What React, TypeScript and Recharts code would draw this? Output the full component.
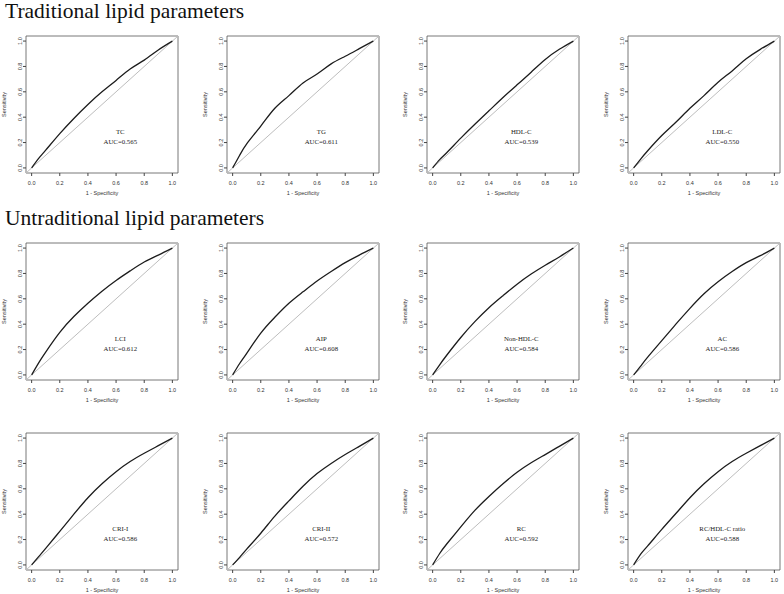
import React from "react";
import { LineChart, Line, XAxis, YAxis, ReferenceLine, ReferenceArea, ReferenceDot } from "recharts";

// false positive rate (1 - specificity) grid the curves were read at
const fpr = [0, 0.05, 0.1, 0.2, 0.3, 0.4, 0.5, 0.6, 0.7, 0.8, 0.9, 1];

// sensitivity
const tcSens = [0, 0.075, 0.14, 0.27, 0.39, 0.5, 0.6, 0.69, 0.78, 0.85, 0.93, 1];
const tgSens = [0, 0.1, 0.19, 0.33, 0.47, 0.57, 0.67, 0.74, 0.82, 0.88, 0.94, 1];
const hdlSens = [0, 0.065, 0.12, 0.235, 0.345, 0.45, 0.555, 0.655, 0.755, 0.855, 0.935, 1];
const ldlSens = [0, 0.07, 0.135, 0.255, 0.36, 0.47, 0.57, 0.675, 0.765, 0.86, 0.935, 1];
const lciSens = [0, 0.095, 0.18, 0.335, 0.46, 0.565, 0.66, 0.745, 0.82, 0.89, 0.945, 1];
const aipSens = [0, 0.09, 0.17, 0.33, 0.455, 0.565, 0.655, 0.74, 0.815, 0.885, 0.945, 1];
const nonHdlSens = [0, 0.08, 0.155, 0.295, 0.42, 0.53, 0.625, 0.715, 0.795, 0.865, 0.93, 1];
const acSens = [0, 0.07, 0.14, 0.27, 0.4, 0.525, 0.64, 0.735, 0.815, 0.885, 0.94, 1];
const cri1Sens = [0, 0.065, 0.13, 0.265, 0.4, 0.53, 0.64, 0.735, 0.815, 0.88, 0.94, 1];
const cri2Sens = [0, 0.06, 0.125, 0.25, 0.385, 0.505, 0.62, 0.72, 0.8, 0.87, 0.935, 1];
const rcSens = [0, 0.09, 0.165, 0.3, 0.43, 0.54, 0.64, 0.73, 0.805, 0.87, 0.935, 1];
const rcHdlSens = [0, 0.085, 0.15, 0.28, 0.405, 0.53, 0.64, 0.735, 0.815, 0.88, 0.94, 1];

const markers = ["TC", "TG", "HDL-C", "LDL-C", "LCI", "AIP", "Non-HDL-C", "AC", "CRI-I", "CRI-II", "RC", "RC/HDL-C ratio"];
const aucs = ["0.565", "0.611", "0.539", "0.550", "0.612", "0.608", "0.584", "0.586", "0.586", "0.572", "0.592", "0.588"];
const sensList = [tcSens, tgSens, hdlSens, ldlSens, lciSens, aipSens, nonHdlSens, acSens, cri1Sens, cri2Sens, rcSens, rcHdlSens];

const axisTicks = [0, 0.2, 0.4, 0.6, 0.8, 1];
const headings = ["Traditional lipid parameters", "Untraditional lipid parameters"];

// layout
const colLeft = [0, 201, 401, 602];
const rowTop = [32, 239, 429];
const CHART_W = 184;
const CHART_H = 171;
const LO = -0.04;
const HI = 1.04;

const sans = "'Liberation Sans', Arial, sans-serif";
const serif = "'Liberation Serif', 'Times New Roman', serif";

const XTick = (props: any) => {
  const { x, y, payload } = props;
  return (
    <text x={x} y={y + 4} textAnchor="middle" fontSize={5.5} fontFamily={sans} fill="#333">
      {Number(payload.value).toFixed(1)}
    </text>
  );
};

const YTick = (props: any) => {
  const { x, y, payload } = props;
  return (
    <text x={x} y={y} transform={`rotate(-90 ${x} ${y})`} textAnchor="middle" fontSize={5.5} fontFamily={sans} fill="#333">
      {Number(payload.value).toFixed(1)}
    </text>
  );
};

const XTitle = (props: any) => {
  const vb = props.viewBox;
  if (!vb) return null;
  return (
    <text x={vb.x + vb.width / 2} y={vb.y + 21.5} textAnchor="middle" fontSize={5.5} fontFamily={sans} fill="#333">
      1 - Specificity
    </text>
  );
};

const YTitle = (props: any) => {
  const vb = props.viewBox;
  if (!vb) return null;
  const x = vb.x + 6;
  const y = vb.y + vb.height / 2;
  return (
    <text x={x} y={y} transform={`rotate(-90 ${x} ${y})`} textAnchor="middle" fontSize={5.5} fontFamily={sans} fill="#333">
      Sensitivity
    </text>
  );
};

function RocPanel({ idx }: { idx: number }) {
  const data = fpr.map((f, i) => ({ fpr: f, sens: sensList[idx][i] }));
  const left = colLeft[idx % 4];
  const top = rowTop[Math.floor(idx / 4)];
  const lbl = { fontSize: 6.8, fontFamily: serif, fill: "#222" };
  return (
    <div style={{ position: "absolute", left, top, width: CHART_W, height: CHART_H }}>
      <LineChart width={CHART_W} height={CHART_H} data={data} margin={{ top: 4, right: 6, bottom: 0, left: 0 }}>
        <XAxis
          dataKey="fpr"
          type="number"
          domain={[LO, HI]}
          ticks={axisTicks}
          axisLine={false}
          tickLine={{ stroke: "#444" }}
          tickSize={3}
          tickMargin={5}
          height={30}
          tick={<XTick />}
          allowDataOverflow
          label={<XTitle />}
        />
        <YAxis
          type="number"
          domain={[LO, HI]}
          ticks={axisTicks}
          axisLine={false}
          tickLine={{ stroke: "#444" }}
          tickSize={3}
          tickMargin={1}
          width={26}
          tick={<YTick />}
          allowDataOverflow
          label={<YTitle />}
        />
        <ReferenceArea x1={LO} x2={HI} y1={LO} y2={HI} fill="none" stroke="#555" strokeWidth={0.8} />
        <ReferenceLine segment={[{ x: LO, y: LO }, { x: HI, y: HI }]} stroke="#bdbdbd" strokeWidth={1} />
        <Line
          type="natural"
          dataKey="sens"
          stroke="#1c1c1c"
          strokeWidth={1.3}
          dot={false}
          isAnimationActive={false}
        />
        <ReferenceDot x={0.63} y={0.285} r={0} fill="none" stroke="none" label={{ value: markers[idx], position: "center", ...lbl }} />
        <ReferenceDot x={0.63} y={0.205} r={0} fill="none" stroke="none" label={{ value: `AUC=${aucs[idx]}`, position: "center", ...lbl }} />
      </LineChart>
    </div>
  );
}

export default function App() {
  return (
    <div style={{ position: "absolute", left: 0, top: 0, width: 784, height: 594, background: "#fff", overflow: "hidden" }}>
      {markers.map((m, i) => (
        <RocPanel key={m} idx={i} />
      ))}
      <svg width={784} height={594} style={{ position: "absolute", left: 0, top: 0, pointerEvents: "none" }}>
        <text x={5} y={17.5} fontSize={21.5} fontFamily={serif} fill="#111">
          {headings[0]}
        </text>
        <text x={5} y={225} fontSize={21.5} fontFamily={serif} fill="#111">
          {headings[1]}
        </text>
      </svg>
    </div>
  );
}
